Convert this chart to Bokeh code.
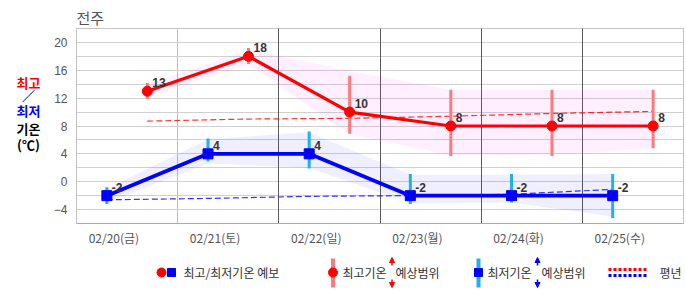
from bokeh.plotting import figure
from bokeh.models import (ColumnDataSource, Range1d, FixedTicker, SingleIntervalTicker,
                          Grid, Arrow, NormalHead, CustomJSTickFormatter)
from bokeh.layouts import column, row
from bokeh.embed import file_html
from bokeh.resources import INLINE
from bokeh.core.properties import value

# ---------------- data ----------------
station = "전주"
dates = ["02/20(금)", "02/21(토)", "02/22(일)", "02/23(월)", "02/24(화)", "02/25(수)"]
max_temp = [13, 18, 10, 8, 8, 8]
min_temp = [-2, 4, 4, -2, -2, -2]
max_range_hi = [14.2, 19.2, 15.2, 13.2, 13.2, 13.2]
max_range_lo = [11.9, 16.9, 6.9, 3.7, 3.7, 4.8]
min_range_hi = [-0.8, 6.2, 7.2, 1.1, 1.1, 1.1]
min_range_lo = [-3.2, 2.9, 1.9, -3.2, -3.0, -5.2]
max_band_hi = [14.0, 19.0, 15.9, 13.2, 13.2, 13.2]
max_band_lo = [12.2, 16.9, 6.8, 3.8, 3.9, 4.8]
min_band_hi = [-1.0, 6.1, 7.1, 1.0, 1.0, 1.1]
min_band_lo = [-3.0, 2.6, 2.0, -3.1, -3.0, -5.0]
max_normal = [8.7, 9.0, 9.1, 9.4, 9.8, 10.1]
min_normal = [-2.6, -2.4, -2.1, -2.0, -1.8, -1.1]

n = len(dates)
x_min = [i + 0.3 for i in range(n)]
x_max = [i + 0.7 for i in range(n)]

src_max = ColumnDataSource(dict(x=x_max, y=max_temp, lo=max_range_lo, hi=max_range_hi,
                                blo=max_band_lo, bhi=max_band_hi, nm=max_normal,
                                t=[str(v) for v in max_temp]))
src_min = ColumnDataSource(dict(x=x_min, y=min_temp, lo=min_range_lo, hi=min_range_hi,
                                blo=min_band_lo, bhi=min_band_hi, nm=min_normal,
                                t=[str(v) for v in min_temp]))

KR = "Noto Sans CJK KR"

p = figure(width=640, height=250, x_range=Range1d(0, n), y_range=Range1d(-6, 22),
           toolbar_location=None, output_backend="svg",
           min_border_left=30, min_border_right=3, min_border_top=28, min_border_bottom=27)
p.background_fill_color = "white"
p.border_fill_color = "white"
p.outline_line_color = "#c4c4c4"

p.title.text = station
p.title.text_font = KR
p.title.text_font_size = "15px"
p.title.text_font_style = "normal"
p.title.text_color = "#555555"
p.title.align = "left"
p.title.standoff = 2

# axes
p.yaxis.ticker = SingleIntervalTicker(interval=4)
p.yaxis.major_tick_line_color = None
p.yaxis.minor_tick_line_color = None
p.yaxis.major_tick_out = 0
p.yaxis.major_tick_in = 0
p.yaxis.axis_line_color = "#c4c4c4"
p.yaxis.major_label_text_font = "Liberation Sans"
p.yaxis.major_label_text_font_size = "12px"
p.yaxis.major_label_text_color = "#555555"
p.yaxis.major_label_standoff = 5

p.xaxis.ticker = FixedTicker(ticks=[i + 0.37 for i in range(n)])
p.xaxis.formatter = CustomJSTickFormatter(args=dict(labels=dates),
                                          code="return labels[Math.floor(tick)];")
p.xaxis.major_tick_line_color = None
p.xaxis.minor_tick_line_color = None
p.xaxis.major_tick_out = 0
p.xaxis.major_tick_in = 0
p.xaxis.axis_line_color = "#aaaaaa"
p.xaxis.major_label_text_font = KR
p.xaxis.major_label_text_font_size = "12px"
p.xaxis.major_label_text_color = "#555555"
p.xaxis.major_label_standoff = 5

# grids
p.ygrid.ticker = SingleIntervalTicker(interval=2)
p.ygrid.grid_line_color = "#d0d0d0"
p.xgrid.ticker = FixedTicker(ticks=[1])
p.xgrid.grid_line_color = "#bdbdbd"
p.add_layout(Grid(dimension=0, ticker=FixedTicker(ticks=[2, 3, 4, 5]),
                  grid_line_color="#5a5a5a"))

# bands
p.varea(x="x", y1="blo", y2="bhi", source=src_max, fill_color="#ff33ff", fill_alpha=0.08)
p.varea(x="x", y1="blo", y2="bhi", source=src_min, fill_color="#3333ff", fill_alpha=0.08)

# normals
p.line(x="x", y="nm", source=src_max, line_color="#ff0000", line_width=1.2,
       line_dash="6 3", line_alpha=0.8)
p.line(x="x", y="nm", source=src_min, line_color="#0000ff", line_width=1.2,
       line_dash="6 3", line_alpha=0.8)

# range bars
p.segment(x0="x", y0="lo", x1="x", y1="hi", source=src_max, line_color="#ff7a7a", line_width=3)
p.segment(x0="x", y0="lo", x1="x", y1="hi", source=src_min, line_color="#1eb0f2", line_width=3)

# forecast lines
p.line(x="x", y="y", source=src_max, line_color="#ff0000", line_width=3.2)
p.line(x="x", y="y", source=src_min, line_color="#0000ff", line_width=3.8)
p.scatter(x="x", y="y", source=src_max, marker="circle", size=10,
          fill_color="#ff0000", line_color="#ff0000")
p.scatter(x="x", y="y", source=src_min, marker="square", size=10,
          fill_color="#0000ff", line_color="#0000ff")

# value labels
for s in (src_max, src_min):
    p.text(x="x", y="y", text="t", source=s, x_offset=5, y_offset=-4,
           text_baseline="bottom", text_align="left",
           text_font=value("Liberation Sans"), text_font_size="12px",
           text_font_style="bold", text_color="#333333")

# ---------------- left caption figure ----------------
# its frame is aligned with the main frame (canvas y 28..223), so use canvas-y range
cp = figure(width=46, height=250, x_range=Range1d(0, 46), y_range=Range1d(223, 28),
            toolbar_location=None, output_backend="svg",
            min_border_left=0, min_border_right=0, min_border_top=28, min_border_bottom=27)
cp.axis.visible = False
cp.grid.visible = False
cp.outline_line_color = None
cp.background_fill_color = "white"
cp.border_fill_color = "white"
cap_text = ["최고", "／", "최저", "기온", "(℃)"]
cap_color = ["#ff0000", "#000000", "#0000ff", "#000000", "#000000"]
cap_y = [81.5, 95, 109.5, 127.5, 144]
cp.text(x=[28] * 5, y=cap_y, text=cap_text, text_color=cap_color,
        text_font=value(KR), text_font_size="13px", text_font_style="bold",
        text_align="center", text_baseline="middle")

# ---------------- legend figure ----------------
lg = figure(width=686, height=45, x_range=Range1d(0, 686), y_range=Range1d(45, 0),
            toolbar_location=None, output_backend="svg",
            min_border_left=0, min_border_right=0, min_border_top=0, min_border_bottom=0)
lg.axis.visible = False
lg.grid.visible = False
lg.outline_line_color = None
lg.background_fill_color = "white"
lg.border_fill_color = "white"

ly = 22
lg.scatter([161], [ly], marker="circle", size=9, fill_color="#ff0000", line_color="#ff0000")
lg.scatter([171], [ly], marker="square", size=8, fill_color="#0000ff", line_color="#0000ff")
lg.segment([332.5], [8], [332.5], [37], line_color="#ff7a7a", line_width=4)
lg.scatter([332.5], [ly], marker="circle", size=9, fill_color="#ff0000", line_color="#ff0000")
lg.segment([478], [8], [478], [37], line_color="#1eb0f2", line_width=4)
lg.scatter([478], [ly], marker="square", size=8, fill_color="#0000ff", line_color="#0000ff")
lg.line([608, 647], [19, 19], line_color="#ff0000", line_width=3, line_dash="3 2")
lg.line([608, 647], [25, 25], line_color="#0000ff", line_width=3, line_dash="3 2")

for ax, col in ((391.5, "#ff0000"), (537, "#0000ff")):
    lg.add_layout(Arrow(x_start=ax, y_start=15, x_end=ax, y_end=7, line_color=col,
                        line_width=1.5, end=NormalHead(size=5, fill_color=col, line_color=col)))
    lg.add_layout(Arrow(x_start=ax, y_start=29, x_end=ax, y_end=37, line_color=col,
                        line_width=1.5, end=NormalHead(size=5, fill_color=col, line_color=col)))

leg_texts = [(183, "최고/최저기온 예보"), (342, "최고기온"), (395, "예상범위"),
             (487, "최저기온"), (541, "예상범위"), (659, "평년")]
lg.text(x=[t[0] for t in leg_texts], y=[ly] * len(leg_texts), text=[t[1] for t in leg_texts],
        text_font=value(KR), text_font_size="12px", text_color="#333333",
        text_baseline="middle", text_align="left")

layout = column(row(cp, p, spacing=0), lg, spacing=0)
open("out.html", "w").write(file_html(layout, INLINE))
